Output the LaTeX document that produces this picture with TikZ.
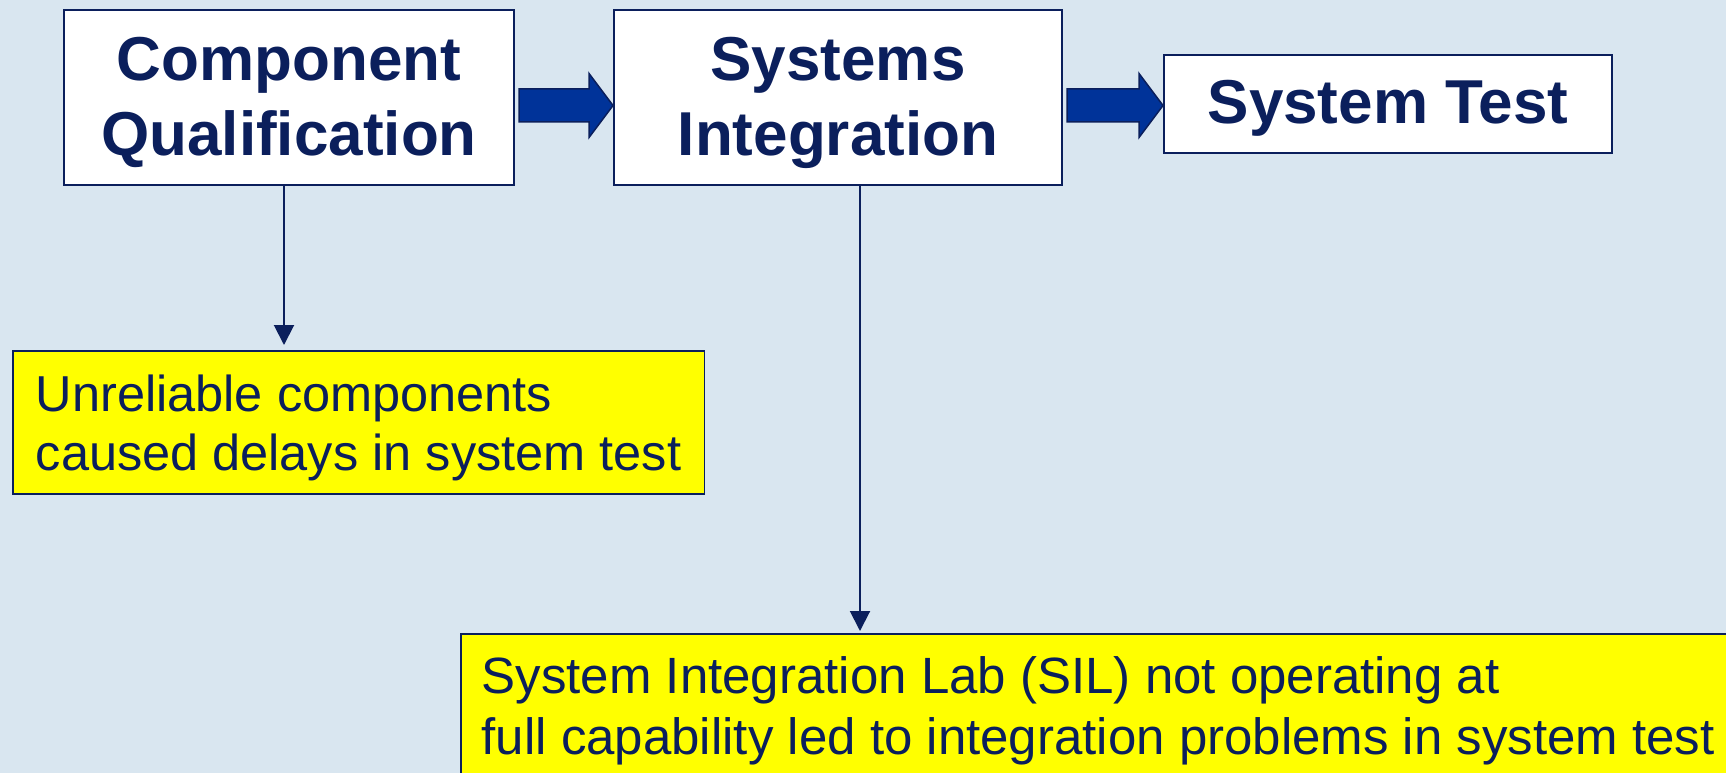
\documentclass[tikz,border=0pt]{standalone}
\usepackage{fontspec}
\setmainfont{Liberation Sans}
\usepackage{xcolor}
\usepackage{tikz}
\usetikzlibrary{arrows.meta,calc}

\definecolor{navy}{HTML}{0B1F5C}
\definecolor{bgblue}{HTML}{D9E6F0}
\definecolor{arrowblue}{HTML}{003399}
\definecolor{hiyellow}{HTML}{FFFF00}

\tikzset{
  stage/.style={draw=navy, line width=2pt, fill=white, text=navy,
    font=\bfseries\fontsize{62}{75}\selectfont, align=center, inner sep=0pt},
  finding/.style={draw=navy, line width=1.5pt, fill=hiyellow, text=navy,
    align=left, inner xsep=22pt, inner ysep=13pt},
  conn/.style={draw=navy, line width=2pt, -{Triangle[width=20pt,length=20pt]}},
  bigarrow/.style={fill=arrowblue, draw=navy, line width=1.5pt, line join=miter}
}

% extra room above the first line of a box
\newcommand{\headroom}[1]{\rule{0pt}{#1}}

% wide block arrow from #1 to the tip #2
\newcommand{\blockarrow}[2]{%
  \filldraw[bigarrow] ($(#1)+(0,-16.5)$) -- ($(#2)+(-24,-16.5)$) -- ($(#2)+(-24,-32)$)
    -- (#2) -- ($(#2)+(-24,32)$) -- ($(#2)+(-24,16.5)$) -- ($(#1)+(0,16.5)$) -- cycle;}

\begin{document}
\begin{tikzpicture}[x=1pt,y=-1pt]
    \useasboundingbox (0,0) rectangle (1726,773);
    \clip (0,0) rectangle (1726,773);
    \fill[bgblue] (0,0) rectangle (1726,773);

    % stages
    \node[stage,minimum width=450pt,minimum height=175pt] (cq) at (289,97.5) {\headroom{54pt}Component\\Qualification};
    \node[stage,minimum width=448pt,minimum height=175pt] (si) at (838,97.5) {\headroom{54pt}Systems\\Integration};
    \node[stage,minimum width=448pt,minimum height=98pt] (st) at (1388,104) {\headroom{51pt}System Test};

    % findings
    \node[finding,anchor=north west,minimum height=143pt,inner xsep=23pt,
      font=\fontsize{50.5}{59}\selectfont] (uc) at (12,350)
      {\headroom{48pt}Unreliable components\\caused delays in system test};
    \node[finding,anchor=north west,inner xsep=21pt,
      font=\fontsize{51}{61}\selectfont] (sil) at (460,633)
      {\headroom{47pt}System Integration Lab (SIL) not operating at\\full capability led to integration problems in system test};

    % flow
    \coordinate (a1s) at ($(cq.east)+(4,8)$);
    \coordinate (a1t) at ($(si.west)+(0,8)$);
    \coordinate (a2s) at ($(si.east)+(4,8)$);
    \coordinate (a2t) at ($(st.west)+(0,1.5)$);
    \blockarrow{a1s}{a1t}
    \blockarrow{a2s}{a2t}

    \draw[conn,shorten >=5pt] ([xshift=-5pt]cq.south) -- ([xshift=-5pt]cq.south |- uc.north);
    \draw[conn,shorten >=2pt] ([xshift=22pt]si.south) -- ([xshift=22pt]si.south |- sil.north);
\end{tikzpicture}
\end{document}
